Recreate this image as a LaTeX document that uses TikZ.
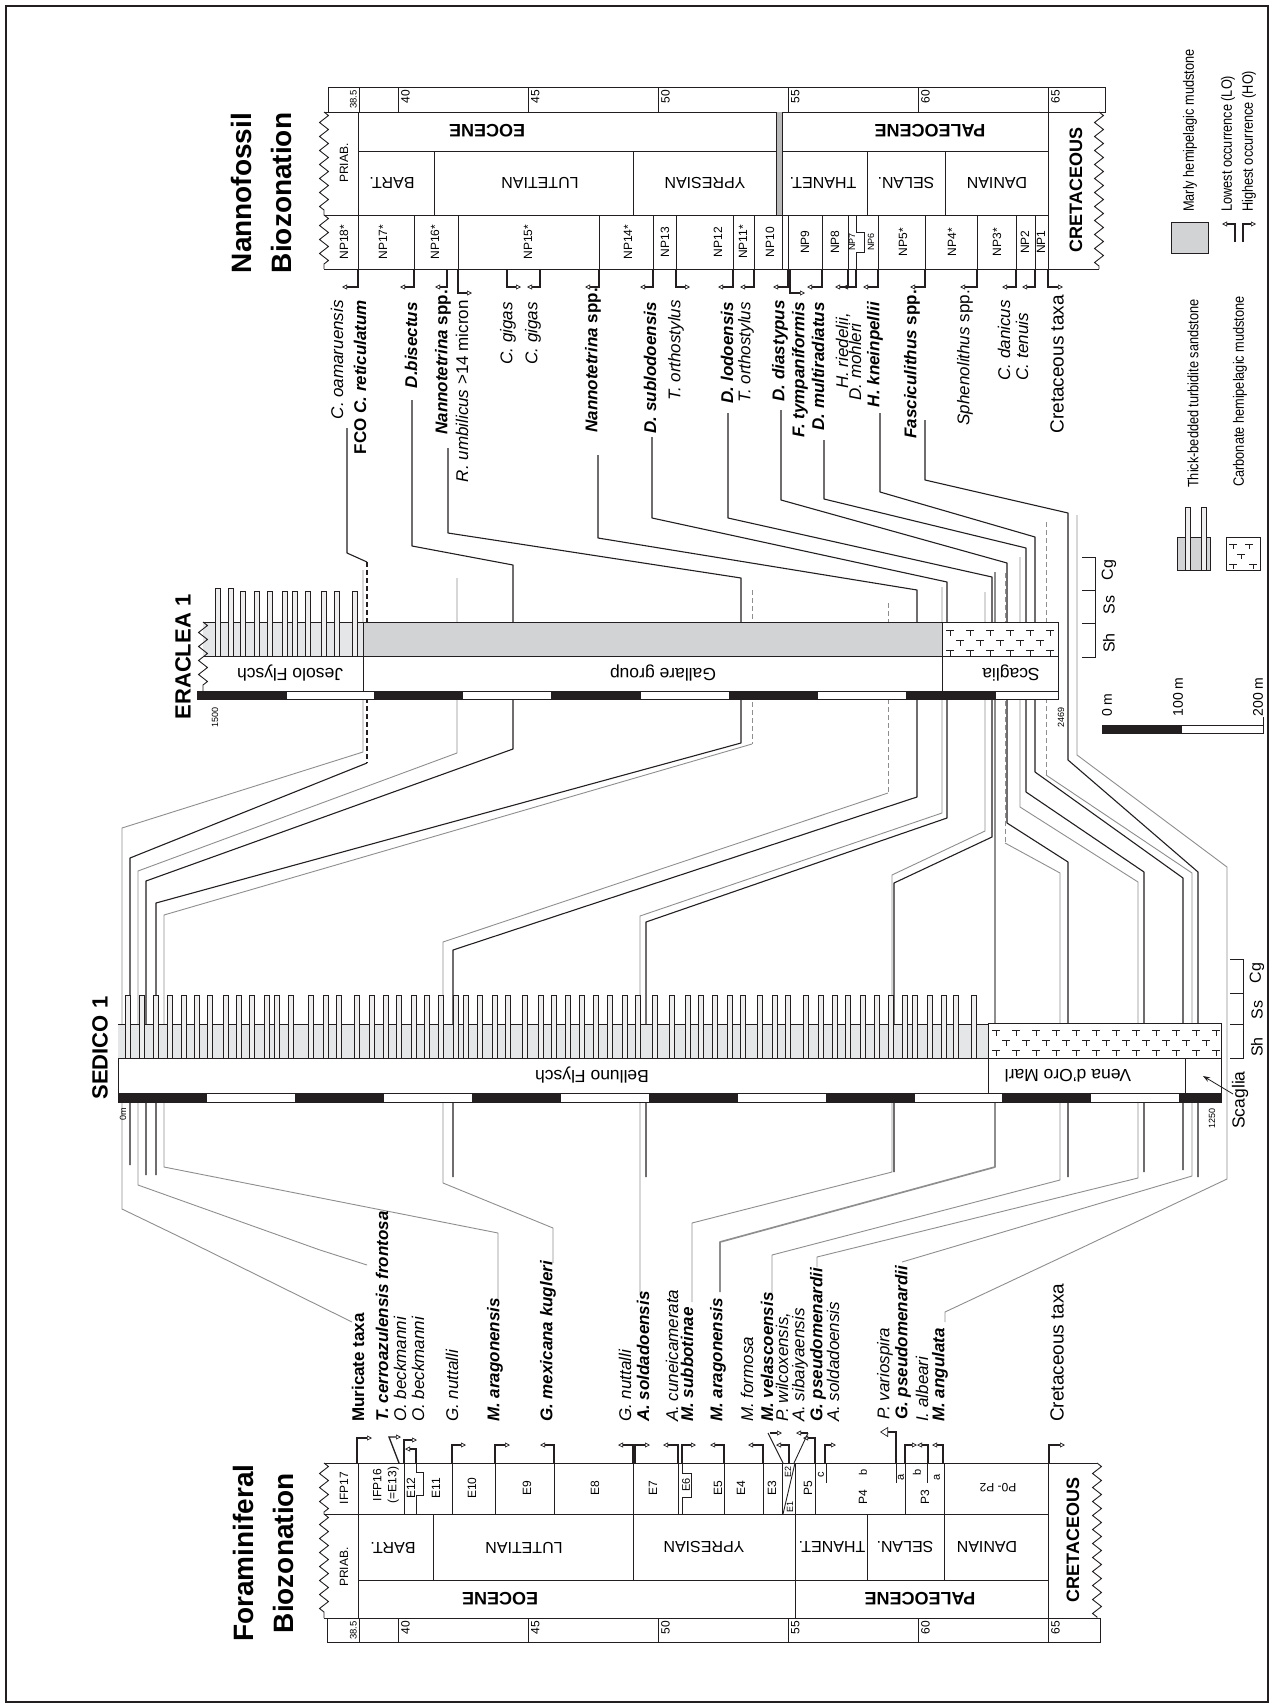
\documentclass[tikz,border=0pt]{standalone}
\usepackage{fontspec}
\setmainfont{Liberation Sans}
\newfontfamily\narrowfont{Liberation Sans}[FakeStretch=0.85]
\usetikzlibrary{arrows.meta,decorations.pathmorphing}
\definecolor{ink}{HTML}{231F20}
\definecolor{gline}{HTML}{8E8E8E}
\definecolor{lgrey}{HTML}{E5E6E8}
\definecolor{mgrey}{HTML}{D2D3D5}
\definecolor{sandf}{HTML}{EEEEEE}
\newcommand\fs[1]{\fontsize{#1}{#1}\selectfont}
\begin{document}
\begin{tikzpicture}[x=1pt,y=-1pt,
  col/.style={draw=ink,line width=0.9pt},
  mk/.style={draw=ink,line width=1.3pt,-{Triangle[open,length=5pt,width=5pt,line width=0.7pt]}},
  blk/.style={draw=ink,line width=1.1pt,line join=round},
  gry/.style={draw=gline,line width=0.9pt,line join=round},
  gryk/.style={draw=gline,line width=1.7pt,line join=round},
  blkd/.style={blk,dash pattern=on 5pt off 3pt},
  gryd/.style={gry,dash pattern=on 5pt off 3pt},
  zn/.style={rotate=90,inner sep=0pt,font=\fs{12}},
  stg/.style={rotate=180,inner sep=0pt,font=\fs{16}},
  epo/.style={rotate=180,inner sep=0pt,font=\bfseries\fs{18}},
  nl/.style={rotate=90,anchor=east,inner sep=0pt,font=\fs{17}},
  fl/.style={rotate=90,anchor=west,inner sep=0pt,font=\fs{17}},
  tk/.style={rotate=90,anchor=north east,inner sep=0pt,font=\fs{12}},
  zz/.style={decorate,decoration={zigzag,segment length=14pt,amplitude=4.5pt}},
  sandbar/.style={draw=ink,line width=0.6pt,fill=sandf},
]
\useasboundingbox (0,0) rectangle (1273,1708);
\fill[white] (0,0) rectangle (1273,1708);
\draw[ink,line width=2.5pt] (6,6) rectangle (1268,1702);

% ================= CONNECTORS (drawn first) =================
% -- left group (young events)
\draw[blk] (347,428)--(347,553)--(367,562);
\draw[blkd] (367,562)--(367,763);
\draw[blk] (367,763)--(130,858)--(130,1165);
\draw[gry] (363,570)--(363,752)--(122,828)--(122,1209)--(180,1237)--(352,1322);
\draw[blk] (412,400)--(412,546)--(513,565)--(513,749)--(146,881)--(146,1175);
\draw[gry] (457,578)--(457,753)--(138,871)--(138,1185)--(320,1250)--(367,1265);
\draw[blk] (448,448)--(448,533)--(741,578)--(741,743)--(156,903)--(156,1175);
\draw[gryd] (752,590)--(752,744);
\draw[gry] (752,744)--(164,915)--(164,1167)--(498,1233)--(498,1300);
\draw[blk] (598,455)--(598,538)--(917,590)--(917,797)--(453,950)--(453,1177);
\draw[gryd] (888,603)--(888,793);
\draw[gry] (888,793)--(443,942)--(443,1183)--(553,1228)--(553,1263);
% -- middle group
\draw[blk] (652,437)--(652,518)--(947,582)--(947,818)--(646,922)--(646,1177);
\draw[gry] (942,587)--(942,813)--(640,916)--(640,1295);
\draw[gry] (985,592)--(985,831)--(892,875)--(892,1172)--(692,1223)--(692,1302);
\draw[blk] (728,413)--(728,518)--(992,577)--(992,837)--(894,883)--(894,1172);
\draw[gryk] (995,572)--(995,1167)--(720,1242)--(720,1292);
% -- right group
\draw[gryd] (1005,573)--(1005,843);
\draw[gry] (1005,843)--(1060,873)--(1060,1180)--(772,1255)--(772,1293);
\draw[blk] (781,410)--(781,500)--(1007,563)--(1007,823)--(1068,862)--(1068,1177);
\draw[gry] (1020,557)--(1020,807)--(1138,882)--(1138,1178)--(817,1257)--(817,1267);
\draw[blk] (824,440)--(824,499)--(1026,548)--(1026,792)--(1144,872)--(1144,1172);
\draw[blk] (880,413)--(880,492)--(1035,537)--(1035,772)--(1183,878)--(1183,1170);
\draw[gryd] (1046,522)--(1046,775);
\draw[gry] (1046,775)--(1192,873)--(1192,1176)--(902,1262);
\draw[blk] (925,420)--(925,480)--(1068,513)--(1068,760)--(1198,872)--(1198,1177);
\draw[gry] (1077,515)--(1077,755)--(1227,867)--(1227,1179)--(1077,1250)--(945,1312)--(945,1322);

% ================= NANNOFOSSIL COLUMN =================
\node[rotate=90,align=center,inner sep=0pt,font=\bfseries\fontsize{28}{40}\selectfont] (ntitle) at (261,193) {Nannofossil\\Biozonation};
\draw[col] (328,87) rectangle (1105,112);
\foreach \a in {40,45,50,55,60,65}{
  \draw[col] ({398+26*(\a-40)},87) -- ({398+26*(\a-40)},112);
  \node[tk] at ({401+26*(\a-40)},90) {\a};}
\draw[col] (359,87)--(359,112);
\node[rotate=90,anchor=south east,inner sep=0pt,font=\fs{9.5}] at (357,90) {38.5};
\draw[col] (324,112)--(1099,112);
\draw[col] (358,151)--(1048,151);
\draw[col] (324,215)--(1048,215);
\draw[col] (324,269)--(1099,269);
\draw[col,zz] (324,112)--(324,215);
\draw[col,zz] (324,215)--(324,269);
\draw[col,zz] (1099,112)--(1099,269);
\draw[col] (358,112)--(358,269);
\draw[col] (1048,112)--(1048,269);
\fill[gray!55] (776,112) rectangle (782,215);
\draw[col] (776,112)--(776,215) (782,112)--(782,269);
\foreach \x in {434,633,867,945} \draw[col] (\x,151)--(\x,215);
\foreach \x in {414,458,599,653,676,733,754,788,822,848,878,925,977,1016,1035} \draw[col] (\x,215)--(\x,269);
\draw[col] (856,215)--(856,232)--(864,232)--(864,252)--(856,252)--(856,269);
\node[rotate=90,inner sep=0pt,font=\fs{12}] at (344,163) {PRIAB.};
\node[epo] at (487,131) {EOCENE};
\node[epo] at (930,131) {PALEOCENE};
\node[stg] at (392,183) {BART.};
\node[stg] at (540,183) {LUTETIAN};
\node[stg] at (705,183) {YPRESIAN};
\node[stg] at (823,183) {THANET.};
\node[stg] at (906,183) {SELAN.};
\node[stg] at (997,183) {DANIAN};
\node[rotate=90,inner sep=0pt,font=\bfseries\fs{18}] at (1076,190) {CRETACEOUS};
\foreach \x/\t in {344/NP18*,383/NP17*,435/NP16*,528/NP15*,628/NP14*,665/NP13,718/NP12,743/NP11*,770/NP10,805/NP9,835/NP8,903/NP5*,952/NP4*,997/NP3*,1025/NP2,1041/NP1}
  \node[zn] at (\x,242) {\t};
\node[zn,font=\fs{9}] at (852,242) {NP7};
\node[zn,font=\fs{9}] at (871,242) {NP6};
% nanno markers
\foreach \x/\e in {358/342,414/400,447/435,540/527,599/585,653/640,733/718,754/740,788/773,822/807,848/835,856/843,878/863,925/910,977/960,1016/1002,1035/1022}
  \draw[mk] (\x,269) |- (\e,287);
\foreach \x/\e in {507/521,676/690,1048/1063} \draw[mk] (\x,269) |- (\e,287);
\foreach \x/\e in {458/472,790/805} \draw[mk] (\x,269) |- (\e,293);
% nanno labels
\node[nl] (n1) at (337,300) {\itshape C. oamaruensis};
\node[nl] (n2) at (360,300) {\bfseries FCO \itshape C. reticulatum};
\node[nl] (n3) at (411,302) {\bfseries\itshape D.bisectus};
\node[nl] (n4) at (443,290) {\bfseries\itshape Nannotetrina \upshape spp.};
\node[nl] (n5) at (462,300) {\itshape R. umbilicus \upshape >14 micron};
\node[nl] (n6) at (508,302) {\itshape C. gigas};
\node[nl] (n7) at (533,302) {\itshape C. gigas};
\node[nl] (n8) at (593,288) {\bfseries\itshape Nannotetrina \upshape spp.};
\node[nl] (n9) at (650,302) {\bfseries\itshape D. sublodoensis};
\node[nl] (n10) at (676,300) {\itshape T. orthostylus};
\node[nl] (n11) at (727,302) {\bfseries\itshape D. lodoensis};
\node[nl] (n12) at (746,302) {\itshape T. orthostylus};
\node[nl] (n13) at (780,300) {\bfseries\itshape D. diastypus};
\node[nl] (n14) at (800,302) {\bfseries\itshape F. tympaniformis};
\node[nl] (n15) at (818,302) {\bfseries\itshape D. multiradiatus};
\node[nl] (n16) at (843,313) {\itshape H. riedelii,};
\node[nl] (n17) at (855,323) {\itshape D. mohleri};
\node[nl] (n18) at (875,302) {\bfseries\itshape H. kneinpellii};
\node[nl] (n19) at (912,290) {\bfseries\itshape Fasciculithus \upshape spp.};
\node[nl] (n20) at (965,290) {\itshape Sphenolithus \upshape spp.};
\node[nl] (n21) at (1004,300) {\itshape C. danicus};
\node[nl] (n22) at (1022,313) {\itshape C. tenuis};
\node[nl,font=\fs{19}] (n23) at (1057,295) {Cretaceous taxa};

% ================= FORAMINIFERAL COLUMN =================
\node[rotate=90,align=center,inner sep=0pt,font=\bfseries\fontsize{28}{40}\selectfont] (ftitle) at (263,1553) {Foraminiferal\\Biozonation};
\draw[col] (327,1618) rectangle (1100,1642);
\foreach \a in {40,45,50,55,60,65}{
  \draw[col] ({398+26*(\a-40)},1618) -- ({398+26*(\a-40)},1642);
  \node[tk] at ({401+26*(\a-40)},1621) {\a};}
\draw[col] (359,1618)--(359,1642);
\node[rotate=90,anchor=south east,inner sep=0pt,font=\fs{9.5}] at (357,1621) {38.5};
\draw[col] (324,1463)--(1097,1463);
\draw[col] (324,1514)--(1048,1514);
\draw[col] (358,1580)--(1048,1580);
\draw[col] (324,1618)--(1097,1618);
\draw[col,zz] (324,1463)--(324,1514);
\draw[col,zz] (324,1514)--(324,1618);
\draw[col,zz] (1097,1463)--(1097,1618);
\draw[col] (358,1463)--(358,1618);
\draw[col] (1048,1463)--(1048,1618);
\draw[col] (795,1463)--(795,1618);
\foreach \x in {433,633,867,944} \draw[col] (\x,1514)--(\x,1580);
\foreach \x in {404,452,495,554,633,678,724,763,782,815,905,944} \draw[col] (\x,1463)--(\x,1514);
\foreach \x in {826,896,927} \draw[col] (\x,1463)--(\x,1483);
\draw[col] (416,1463)--(416,1472)--(423,1472)--(423,1495)--(416,1495)--(416,1514);
\draw[col] (682,1463)--(682,1473)--(691,1473)--(691,1497)--(682,1497)--(682,1514);
\draw[col] (783,1514)--(795,1463);
\node[rotate=90,inner sep=0pt,font=\fs{12}] at (344,1567) {PRIAB.};
\node[zn] at (344,1488) {IFP17};
\node[zn,align=center,font=\fontsize{12}{15}\selectfont] at (386,1485) {IFP16\\(=E13)};
\foreach \x/\t in {411/E12,436/E11,472/E10,527/E9,595/E8,653/E7,718/E5,741/E4,772/E3,808/P5}
  \node[zn] at (\x,1488) {\t};
\node[zn,font=\fs{11}] at (686,1485) {E6};
\node[zn,font=\fs{9}] at (788,1472) {E2};
\node[zn,font=\fs{9}] at (790,1507) {E1};
\node[zn,font=\fs{11}] at (821,1475) {c};
\node[zn,font=\fs{11}] at (863,1472) {b};
\node[zn] at (863,1497) {P4};
\node[zn,font=\fs{11}] at (901,1477) {a};
\node[zn,font=\fs{11}] at (917,1472) {b};
\node[zn] at (925,1497) {P3};
\node[zn,font=\fs{11}] at (937,1477) {a};
\node[stg,font=\fs{12}] at (998,1488) {P0- P2};
\node[stg] at (393,1548) {BART.};
\node[stg] at (524,1548) {LUTETIAN};
\node[stg] at (704,1547) {YPRESIAN};
\node[stg] at (832,1547) {THANET.};
\node[stg] at (905,1547) {SELAN.};
\node[stg] at (987,1547) {DANIAN};
\node[epo] at (500,1599) {EOCENE};
\node[epo] at (920,1599) {PALEOCENE};
\node[rotate=90,inner sep=0pt,font=\bfseries\fs{18}] at (1073,1540) {CRETACEOUS};
% foram markers
\foreach \x/\e in {452/466,495/510,635/650,682/696,825/836,905/917,1049/1065} \draw[mk] (\x,1463) |- (\e,1445);
\foreach \x/\e in {554/540,633/618,678/663,724/710,763/748,789/776,928/917,943/932} \draw[mk] (\x,1463) |- (\e,1445);
\draw[mk] (357,1463) |- (372,1438);
\draw[mk] (404,1463) |- (417,1440);
\draw[mk] (416,1463) |- (405,1449);
\draw[mk] (815,1463) |- (803,1438);
\draw[mk] (399,1463)--(389,1437)--(401,1437);
\draw[col] (783,1463)--(768,1433);
\draw[col] (794,1463)--(808,1433);
\draw[mk] (770,1433)--(782,1433);
\draw[mk] (808,1433)--(796,1433);
\draw[ink,line width=1.3pt,-{Triangle[open,length=8pt,width=10pt,line width=0.7pt]}] (896,1463)--(896,1432)--(880,1432);
% foram labels
\node[fl] (f1) at (358,1422) {\bfseries Muricate taxa};
\node[fl] (f2) at (382,1422) {\bfseries\itshape T. cerroazulensis frontosa};
\node[fl] (f3) at (400,1422) {\itshape O. beckmanni};
\node[fl] (f4) at (418,1422) {\itshape O. beckmanni};
\node[fl] (f5) at (452,1422) {\itshape G. nuttalli};
\node[fl] (f6) at (495,1422) {\bfseries\itshape M. aragonensis};
\node[fl] (f7) at (548,1422) {\bfseries\itshape G. mexicana kugleri};
\node[fl] (f8) at (625,1422) {\itshape G. nuttalli};
\node[fl] (f9) at (643,1422) {\bfseries\itshape A. soldadoensis};
\node[fl] (f10) at (672,1422) {\itshape A. cuneicamerata};
\node[fl] (f11) at (687,1422) {\bfseries\itshape M. subbotinae};
\node[fl] (f12) at (718,1422) {\bfseries\itshape M. aragonensis};
\node[fl] (f13) at (747,1422) {\itshape M. formosa};
\node[fl] (f14) at (767,1422) {\bfseries\itshape M. velascoensis};
\node[fl] (f15) at (783,1422) {\itshape P. wilcoxensis,};
\node[fl] (f16) at (800,1422) {\itshape A. sibaiyaensis};
\node[fl] (f17) at (818,1422) {\bfseries\itshape G. pseudomenardii};
\node[fl] (f18) at (833,1422) {\itshape A. soldadoensis};
\node[fl] (f19) at (885,1420) {\itshape P. variospira};
\node[fl] (f20) at (903,1420) {\bfseries\itshape G. pseudomenardii};
\node[fl] (f21) at (922,1422) {\itshape I. albeari};
\node[fl] (f22) at (940,1422) {\bfseries\itshape M. angulata};
\node[fl,font=\fs{19}] (f23) at (1057,1422) {Cretaceous taxa};

% ================= ERACLEA 1 =================
\node[rotate=90,inner sep=0pt,font=\bfseries\fs{22}] (etitle) at (183,657) {ERACLEA 1};
\fill[lgrey] (203,622) rectangle (363,656);
\fill[mgrey] (363,622) rectangle (942,656);
\fill[white] (203,656) rectangle (1058,691);
\draw[col] (203,622)--(1058,622) (203,656)--(1058,656) (197,691)--(1058,691);
\draw[col,zz] (203,622)--(203,691);
\foreach \x/\t in {215/588,228/588,240/591,254/591,267/591,282/591,292/591,305/591,321/591,334/591,352/591}
  \draw[sandbar] (\x,\t) rectangle (\x+5,656);
\draw[col] (363,622)--(363,691) (942,622)--(942,691) (1058,622)--(1058,699);
\fill[white] (942.5,622.5) rectangle (1057.5,655.5);
\foreach \x in {950,970,...,1050} \draw[ink,line width=0.5pt] (\x-4,630)--(\x+4,630) (\x,630)--(\x,636) (\x-4,650)--(\x+4,650) (\x,650)--(\x,656);
\foreach \x in {960,980,...,1040} \draw[ink,line width=0.5pt] (\x-4,640)--(\x+4,640) (\x,640)--(\x,646);
\draw[col] (942,622) rectangle (1058,656);
\draw[col,fill=white] (197,691) rectangle (1058,699);
\foreach \a/\b in {197/287,374/463,551/641,729/818,906/996} \fill[ink] (\a,691) rectangle (\b,699);
\node[stg] at (290,673) {\fs{17.5}Jesolo Flysch};
\node[stg] at (663,673) {\fs{17.5}Gallare group};
\node[stg] at (1011,673) {\fs{17.5}Scaglia};
\node[rotate=90,inner sep=0pt,font=\fs{9}] at (215,717) {1500};
\node[rotate=90,inner sep=0pt,font=\fs{9}] at (1061,717) {2469};
\draw[col] (1082,557)--(1095,557)--(1095,657)--(1082,657) (1082,590)--(1095,590) (1082,623)--(1095,623);
\node[rotate=90,inner sep=0pt,font=\fs{16}] at (1109,570) {Cg};
\node[rotate=90,inner sep=0pt,font=\fs{16}] at (1109,605) {Ss};
\node[rotate=90,inner sep=0pt,font=\fs{16}] at (1109,643) {Sh};

% ================= SEDICO 1 =================
\node[rotate=90,inner sep=0pt,font=\bfseries\fs{22}] (stitle) at (100,1048) {SEDICO 1};
\fill[lgrey] (118,1024) rectangle (988,1058);
\fill[white] (118,1058) rectangle (1221,1093);
\draw[col] (118,1024)--(988,1024);
\foreach \x in {125,139,153,167,181,194,207,223,236,249,264,274,288,308,323,336,354,369,383,396,411,424,438,453,463,477,492,505,522,538,551,565,579,593,607,622,635,652,669,685,698,712,727,740,757,772,785,803,818,832,845,860,874,888,902,912,927,941,953,971}
  \draw[sandbar] (\x,995) rectangle (\x+5.3,1058);
\fill[white] (988,1023) rectangle (1221,1058);
\foreach \x in {996,1016,...,1216} \draw[ink,line width=0.5pt] (\x-4,1030)--(\x+4,1030) (\x,1030)--(\x,1036) (\x-4,1050)--(\x+4,1050) (\x,1050)--(\x,1056);
\foreach \x in {1006,1026,...,1206} \draw[ink,line width=0.5pt] (\x-4,1040)--(\x+4,1040) (\x,1040)--(\x,1046);
\draw[col] (988,1023) rectangle (1221,1058);
\draw[col] (118,1058) rectangle (1221,1093);
\draw[col] (988,1058)--(988,1093) (1185,1058)--(1185,1093);
\draw[col,fill=white] (118,1093) rectangle (1221,1102);
\foreach \a/\b in {118/207,295/384,472/561,649/738,826/915,1002/1091,1179/1221} \fill[ink] (\a,1093) rectangle (\b,1102);
\node[stg] at (592,1075) {\fs{17.5}Belluno Flysch};
\node[stg] at (1068,1076) {\fs{17.5}Vena d'Oro Marl};
\node[rotate=90,inner sep=0pt,font=\fs{9}] at (123,1114) {0m};
\node[rotate=90,inner sep=0pt,font=\fs{9}] at (1212,1118) {1250};
\node[rotate=90,inner sep=0pt,font=\fs{17.5}] (scag) at (1240,1100) {Scaglia};
\draw[ink,line width=0.8pt,-{Stealth[length=7pt,width=5pt]}] (1233,1094)--(1203,1076);
\draw[col] (1230,959)--(1243,959)--(1243,1058)--(1230,1058) (1230,993)--(1243,993) (1230,1024)--(1243,1024);
\node[rotate=90,inner sep=0pt,font=\fs{16}] at (1257,973) {Cg};
\node[rotate=90,inner sep=0pt,font=\fs{16}] at (1257,1010) {Ss};
\node[rotate=90,inner sep=0pt,font=\fs{16}] at (1257,1047) {Sh};

% ================= LEGEND =================
\draw[col,fill=mgrey] (1171,222) rectangle (1208,253);
\node[rotate=90,anchor=west,inner sep=0pt,font=\narrowfont\fs{15}] at (1190,212) {Marly hemipelagic mudstone};
\draw[mk] (1235,242)--(1235,224)--(1222,224);
\node[rotate=90,anchor=west,inner sep=0pt,font=\narrowfont\fs{15}] at (1228,212) {Lowest occurrence (LO)};
\draw[mk] (1243,242)--(1243,224)--(1256,224);
\node[rotate=90,anchor=west,inner sep=0pt,font=\narrowfont\fs{15}] at (1249,212) {Highest occurrence (HO)};
\draw[col,fill=mgrey] (1177,537) rectangle (1210,570);
\draw[sandbar] (1185,507) rectangle (1190,570);
\draw[sandbar] (1201,507) rectangle (1206,570);
\node[rotate=90,anchor=west,inner sep=0pt,font=\narrowfont\fs{15}] at (1193,488) {Thick-bedded turbidite sandstone};
\draw[col,fill=white] (1226,537) rectangle (1260,570);
\foreach \x/\y in {1233/544,1249/544,1241/554,1233/564,1253/564} \draw[ink,line width=0.5pt] (\x-4,\y)--(\x+4,\y) (\x,\y)--(\x,\y+5);
\node[rotate=90,anchor=west,inner sep=0pt,font=\narrowfont\fs{15}] at (1240,487) {Carbonate hemipelagic mudstone};
\draw[col] (1102,725) rectangle (1263,733);
\fill[ink] (1102,725) rectangle (1182,733);
\draw[col] (1263,717)--(1263,725);
\node[rotate=90,inner sep=0pt,font=\fs{14}] at (1107,705) {0 m};
\node[rotate=90,inner sep=0pt,font=\fs{14}] at (1178,697) {100 m};
\node[rotate=90,inner sep=0pt,font=\fs{14}] at (1258,697) {200 m};
\end{tikzpicture}
\end{document}
